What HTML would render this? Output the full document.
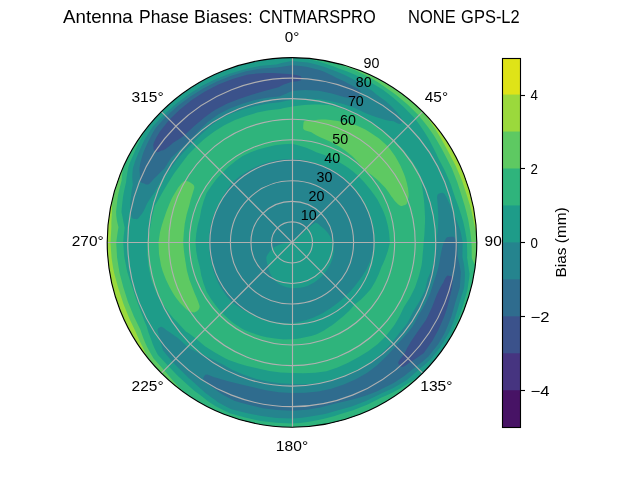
<!DOCTYPE html>
<html><head><meta charset="utf-8"><title>Antenna Phase Biases</title>
<style>html,body{margin:0;padding:0;background:#fff}svg{display:block;will-change:transform}text{font-family:"Liberation Sans",sans-serif;fill:#000}</style></head><body>
<svg width="640" height="480" viewBox="0 0 640 480">
<rect width="640" height="480" fill="#fff"/>
<defs><clipPath id="c"><circle cx="292" cy="242.4" r="184.8"/></clipPath></defs>
<g clip-path="url(#c)" shape-rendering="geometricPrecision">
<path d="M292 241.4L292 240.3L292 239.3L292 238.3L292 237.3L292 236.2L292 235.2L292 234.2L292 233.2L292 232.1L292 231.1L292 230.1L292 229.1L292 228L292 227L292 226L292 224.9L292 223.9L292 222.9L292 221.9L292 220.8L292 219.8L292 218.8L292 217.8L292 216.7L292 215.7L292 214.7L292 213.7L292 212.6L292 211.6L292 210.6L292 209.5L292 208.5L292 207.5L292 206.5L292 205.4L292 204.4L292 203.4L292 202.4L292 201.3L292 200.3L292 199.3L292 198.3L292 197.2L292 196.2L292 195.2L292 194.1L292 193.1L292 192.1L292 191.1L292 190L292 189L292 188L292 187L292 185.9L292 184.9L292 183.9L292 182.9L292 181.8L292 180.8L292 179.8L292 178.7L292 177.7L292 176.7L292 175.7L292 174.6L292 173.6L292 172.6L292 171.6L292 170.5L292 169.5L292 168.5L292 167.5L292 166.4L292 165.4L292 164.4L292 163.3L292 162.3L292 161.3L292 160.3L292 159.2L292 158.2L292 157.2L292 156.2L292 155.1L292 154.1L292 153.1L292 152.1L292 151L292 150L292 149L292 147.9L292 146.9L292 145.9L292 144.9L292 143.8L292 142.8L292 141.8L292 140.8L292 139.7L292 138.7L292 137.7L292 136.7L292 135.6L292 134.6L292 133.6L292 132.5L292 131.5L292 130.5L292 129.5L292 128.4L292 127.4L292 126.4L292 125.4L292 124.3L292 123.3L292 122.3L292 121.3L292 120.2L292 119.2L292 118.2L292 117.1L292 116.1L292 115.1L292 114.1L292 113L292 112L292 111L292 110L292 108.9L292 107.9L292 106.9L292 105.9L292 104.8L292 103.8L292 102.8L292 101.7L292 100.7L292 99.7L292 98.7L292 97.6L292 96.6L292 95.6L292 94.6L292 93.5L292 92.5L292 91.5L292 90.5L292 89.4L292 88.4L292 87.4L292 86.3L292 85.3L292 84.3L292 83.3L292 82.2L292 81.2L292 80.2L292 79.2L292 78.1L292 77.1L292 76.1L292 75.1L292 74L292 73L292 72L292 70.9L292 69.9L292 68.9L292 67.9L292 66.8L292 65.8L292 64.8L292 63.8L292 62.7L292 61.7L292 60.7L292 59.7L292 58.6L292 57.6L308.1 58.3L324.1 60.4L339.8 63.9L355.2 68.7L370.1 74.9L384.4 82.4L398 91L410.8 100.8L422.7 111.7L433.6 123.6L443.4 136.4L452 150L459.5 164.3L465.7 179.2L470.5 194.6L474 210.3L476.1 226.3L476.8 242.4L476.1 258.5L474 274.5L470.5 290.2L465.7 305.6L459.5 320.5L452 334.8L443.4 348.4L433.6 361.2L422.7 373.1L410.8 384L398 393.8L384.4 402.4L370.1 409.9L355.2 416.1L339.8 420.9L324.1 424.4L308.1 426.5L292 427.2L275.9 426.5L259.9 424.4L244.2 420.9L228.8 416.1L213.9 409.9L199.6 402.4L186 393.8L173.2 384L161.3 373.1L150.4 361.2L140.6 348.4L132 334.8L124.5 320.5L118.3 305.6L113.5 290.2L110 274.5L107.9 258.5L107.2 242.4L107.9 226.3L110 210.3L113.5 194.6L118.3 179.2L124.5 164.3L132 150L140.6 136.4L150.4 123.6L161.3 111.7L173.2 100.8L186 91L199.6 82.4L213.9 74.9L228.8 68.7L244.2 63.9L259.9 60.4L275.9 58.3L292 57.6L292 58.6L292 59.7L292 60.7L292 61.7L292 62.7L292 63.8L292 64.8L292 65.8L292 66.8L292 67.9L292 68.9L292 69.9L292 70.9L292 72L292 73L292 74L292 75.1L292 76.1L292 77.1L292 78.1L292 79.2L292 80.2L292 81.2L292 82.2L292 83.3L292 84.3L292 85.3L292 86.3L292 87.4L292 88.4L292 89.4L292 90.5L292 91.5L292 92.5L292 93.5L292 94.6L292 95.6L292 96.6L292 97.6L292 98.7L292 99.7L292 100.7L292 101.7L292 102.8L292 103.8L292 104.8L292 105.9L292 106.9L292 107.9L292 108.9L292 110L292 111L292 112L292 113L292 114.1L292 115.1L292 116.1L292 117.1L292 118.2L292 119.2L292 120.2L292 121.3L292 122.3L292 123.3L292 124.3L292 125.4L292 126.4L292 127.4L292 128.4L292 129.5L292 130.5L292 131.5L292 132.5L292 133.6L292 134.6L292 135.6L292 136.7L292 137.7L292 138.7L292 139.7L292 140.8L292 141.8L292 142.8L292 143.8L292 144.9L292 145.9L292 146.9L292 147.9L292 149L292 150L292 151L292 152.1L292 153.1L292 154.1L292 155.1L292 156.2L292 157.2L292 158.2L292 159.2L292 160.3L292 161.3L292 162.3L292 163.3L292 164.4L292 165.4L292 166.4L292 167.5L292 168.5L292 169.5L292 170.5L292 171.6L292 172.6L292 173.6L292 174.6L292 175.7L292 176.7L292 177.7L292 178.7L292 179.8L292 180.8L292 181.8L292 182.9L292 183.9L292 184.9L292 185.9L292 187L292 188L292 189L292 190L292 191.1L292 192.1L292 193.1L292 194.1L292 195.2L292 196.2L292 197.2L292 198.3L292 199.3L292 200.3L292 201.3L292 202.4L292 203.4L292 204.4L292 205.4L292 206.5L292 207.5L292 208.5L292 209.5L292 210.6L292 211.6L292 212.6L292 213.7L292 214.7L292 215.7L292 216.7L292 217.8L292 218.8L292 219.8L292 220.8L292 221.9L292 222.9L292 223.9L292 224.9L292 226L292 227L292 228L292 229.1L292 230.1L292 231.1L292 232.1L292 233.2L292 234.2L292 235.2L292 236.2L292 237.3L292 238.3L292 239.3L292 240.3L292 241.4L292 242.4L292 242.4L292 242.4L292 242.4L292 242.4L292 242.4L292 242.4L292 242.4L292 242.4L292 242.4L292 242.4L292 242.4L292 242.4L292 242.4L292 242.4L292 242.4L292 242.4L292 242.4L292 242.4L292 242.4L292 242.4L292 242.4L292 242.4L292 242.4L292 242.4L292 242.4L292 242.4L292 242.4L292 242.4L292 242.4L292 242.4L292 242.4L292 242.4L292 242.4L292 242.4L292 242.4L292 242.4L292 242.4L292 242.4L292 242.4L292 242.4L292 242.4L292 242.4L292 242.4L292 242.4L292 242.4L292 242.4L292 242.4L292 242.4L292 242.4L292 242.4L292 242.4L292 242.4L292 242.4L292 242.4L292 242.4L292 242.4L292 242.4L292 242.4L292 242.4L292 242.4L292 242.4L292 242.4L292 242.4L292 242.4L292 242.4L292 242.4L292 242.4L292 242.4L292 242.4L292 242.4L292 242.4L292 242.4z" fill="#3b528b"/>
<path d="M292 241.4L292 240.3L292 239.3L292 238.3L292 237.3L292 236.2L292 235.2L292 234.2L292 233.2L292 232.1L292 231.1L292 230.1L292 229.1L292 228L292 227L292 226L292 224.9L292 223.9L292 222.9L292 221.9L292 220.8L292 219.8L292 218.8L292 217.8L292 216.7L292 215.7L292 214.7L292 213.7L292 212.6L292 211.6L292 210.6L292 209.5L292 208.5L292 207.5L292 206.5L292 205.4L292 204.4L292 203.4L292 202.4L292 201.3L292 200.3L292 199.3L292 198.3L292 197.2L292 196.2L292 195.2L292 194.1L292 193.1L292 192.1L292 191.1L292 190L292 189L292 188L292 187L292 185.9L292 184.9L292 183.9L292 182.9L292 181.8L292 180.8L292 179.8L292 178.7L292 177.7L292 176.7L292 175.7L292 174.6L292 173.6L292 172.6L292 171.6L292 170.5L292 169.5L292 168.5L292 167.5L292 166.4L292 165.4L292 164.4L292 163.3L292 162.3L292 161.3L292 160.3L292 159.2L292 158.2L292 157.2L292 156.2L292 155.1L292 154.1L292 153.1L292 152.1L292 151L292 150L292 149L292 147.9L292 146.9L292 145.9L292 144.9L292 143.8L292 142.8L292 141.8L292 140.8L292 139.7L292 138.7L292 137.7L292 136.7L292 135.6L292 134.6L292 133.6L292 132.5L292 131.5L292 130.5L292 129.5L292 128.4L292 127.4L292 126.4L292 125.4L292 124.3L292 123.3L292 122.3L292 121.3L292 120.2L292 119.2L292 118.2L292 117.1L292 116.1L292 115.1L292 114.1L292 113L292 112L292 111L292 110L292 108.9L292 107.9L292 106.9L292 105.9L292 104.8L292 103.8L292 102.8L292 101.7L292 100.7L292 99.7L292 98.7L292 97.6L292 96.6L292 95.6L292 94.6L292 93.5L292 92.5L292 91.5L292 90.5L292 89.4L292 88.4L292 87.4L292 86.3L292 85.3L292 84.3L292 83.3L292 82.2L292 81.8L297.4 81.3L300.7 80.4L301.3 79.4L301.3 78.4L301.4 77.4L300.7 76.3L296.4 75.1L292 74.6L292 74L292 73L292 72L292 70.9L292 69.9L292 68.9L292 67.9L292 66.8L292 65.8L292 64.8L292 63.8L292 62.7L292 61.7L292 60.7L292 59.7L292 58.6L292 57.6L308.1 58.3L324.1 60.4L339.8 63.9L355.2 68.7L370.1 74.9L384.4 82.4L398 91L410.8 100.8L422.7 111.7L433.6 123.6L443.4 136.4L452 150L459.5 164.3L465.7 179.2L470.5 194.6L474 210.3L476.1 226.3L476.8 242.4L476.1 258.5L474 274.5L470.5 290.2L465.7 305.6L459.5 320.5L452 334.8L443.4 348.4L433.6 361.2L422.7 373.1L410.8 384L398 393.8L384.4 402.4L370.1 409.9L355.2 416.1L339.8 420.9L324.1 424.4L308.1 426.5L292 427.2L275.9 426.5L259.9 424.4L244.2 420.9L228.8 416.1L213.9 409.9L199.6 402.4L186 393.8L173.2 384L161.3 373.1L150.4 361.2L140.6 348.4L132 334.8L124.5 320.5L118.3 305.6L113.5 290.2L110 274.5L107.9 258.5L107.2 242.4L107.9 226.3L110 210.3L113.5 194.6L118.3 179.2L124.5 164.3L132 150L140.6 136.4L150.4 123.6L161.3 111.7L173.2 100.8L186 91L199.6 82.4L213.9 74.9L228.8 68.7L244.2 63.9L259.9 60.4L275.9 58.3L292 57.6L292 58.6L292 59.7L292 60.7L292 61.7L292 62.7L292 63.8L292 64.8L292 65.8L292 66.8L292 67.9L292 68.9L292 69.9L292 70.9L292 72L292 73L292 74L292 74.6L288.2 74.1L280.7 73.4L277.2 73.3L273 73L265.1 73.1L262.2 73.2L257.3 73.5L248.6 74.4L247.1 74.7L232.5 79L218.4 84.6L205 91.6L192.1 99.8L180.2 109.2L169.3 119.7L169.3 119.7L159.9 131.5L159.9 131.5L156.5 137.3L153.9 142.5L153.2 145.2L153.2 145.2L153.5 146.7L153.5 148.4L153.8 149.9L154.6 150.6L155.4 151.1L156.3 151.7L157.2 152.2L158.6 151.9L160.5 150.9L161 150.6L162 150.6L163.7 150.1L165.9 148.7L169.1 146.3L173.2 142.8L173.2 142.8L176.4 140.7L179.9 138.4L183.9 135.7L184.7 135.1L194.3 126L194.3 126L204.5 117.4L211.5 112.3L215.4 109.7L227.3 103.6L239.7 98.7L239.7 98.7L252.4 94.6L252.4 94.6L265.3 90.7L265.3 90.7L273.7 88.5L278.4 87.3L279.1 86.9L281.2 85.7L283.8 84.5L286.8 83.4L290.3 82.2L292 81.8L292 82.2L292 83.3L292 84.3L292 85.3L292 86.3L292 87.4L292 88.4L292 89.4L292 90.5L292 91.5L292 92.5L292 93.5L292 94.6L292 95.6L292 96.6L292 97.6L292 98.7L292 99.7L292 100.7L292 101.7L292 102.8L292 103.8L292 104.8L292 105.9L292 106.9L292 107.9L292 108.9L292 110L292 111L292 112L292 113L292 114.1L292 115.1L292 116.1L292 117.1L292 118.2L292 119.2L292 120.2L292 121.3L292 122.3L292 123.3L292 124.3L292 125.4L292 126.4L292 127.4L292 128.4L292 129.5L292 130.5L292 131.5L292 132.5L292 133.6L292 134.6L292 135.6L292 136.7L292 137.7L292 138.7L292 139.7L292 140.8L292 141.8L292 142.8L292 143.8L292 144.9L292 145.9L292 146.9L292 147.9L292 149L292 150L292 151L292 152.1L292 153.1L292 154.1L292 155.1L292 156.2L292 157.2L292 158.2L292 159.2L292 160.3L292 161.3L292 162.3L292 163.3L292 164.4L292 165.4L292 166.4L292 167.5L292 168.5L292 169.5L292 170.5L292 171.6L292 172.6L292 173.6L292 174.6L292 175.7L292 176.7L292 177.7L292 178.7L292 179.8L292 180.8L292 181.8L292 182.9L292 183.9L292 184.9L292 185.9L292 187L292 188L292 189L292 190L292 191.1L292 192.1L292 193.1L292 194.1L292 195.2L292 196.2L292 197.2L292 198.3L292 199.3L292 200.3L292 201.3L292 202.4L292 203.4L292 204.4L292 205.4L292 206.5L292 207.5L292 208.5L292 209.5L292 210.6L292 211.6L292 212.6L292 213.7L292 214.7L292 215.7L292 216.7L292 217.8L292 218.8L292 219.8L292 220.8L292 221.9L292 222.9L292 223.9L292 224.9L292 226L292 227L292 228L292 229.1L292 230.1L292 231.1L292 232.1L292 233.2L292 234.2L292 235.2L292 236.2L292 237.3L292 238.3L292 239.3L292 240.3L292 241.4L292 242.4L292 242.4L292 242.4L292 242.4L292 242.4L292 242.4L292 242.4L292 242.4L292 242.4L292 242.4L292 242.4L292 242.4L292 242.4L292 242.4L292 242.4L292 242.4L292 242.4L292 242.4L292 242.4L292 242.4L292 242.4L292 242.4L292 242.4L292 242.4L292 242.4L292 242.4L292 242.4L292 242.4L292 242.4L292 242.4L292 242.4L292 242.4L292 242.4L292 242.4L292 242.4L292 242.4L292 242.4L292 242.4L292 242.4L292 242.4L292 242.4L292 242.4L292 242.4L292 242.4L292 242.4L292 242.4L292 242.4L292 242.4L292 242.4L292 242.4L292 242.4L292 242.4L292 242.4L292 242.4L292 242.4L292 242.4L292 242.4L292 242.4L292 242.4L292 242.4L292 242.4L292 242.4L292 242.4L292 242.4L292 242.4L292 242.4L292 242.4L292 242.4L292 242.4L292 242.4L292 242.4L292 242.4L292 242.4zM443.1 282.9L442.5 283.8L440.2 287.8L436.7 295.1L436.7 295.1L436.7 295.1L431.9 307.6L426.1 319.8L418.3 330.8L410.6 341.9L410.1 342.9L407.6 347.2L405.8 350.7L404.2 353.8L403.9 354.3L399.8 359.5L398.3 362.2L398.3 363.6L399 364.4L399.6 365.1L400.3 365.9L401 366.7L402.2 367L404.9 365.9L411.1 361.5L411.1 361.5L414.5 359.4L418.1 357.1L421.7 354.5L423.8 353L432.4 340.7L432.4 340.7L438.4 329.7L439.4 327.5L443.5 318.3L445.2 313.8L447 308.2L449.3 299.6L449.3 299.6L452 287.9L452.2 285.3L452.7 281.1L452.4 277.7L451.7 276.4L450.7 276.1L449.7 275.9L448.7 275.7L447.6 275.6L446.4 276.4L444.7 279.3z" fill="#2f6c8e"/>
<path d="M292 241.4L292 240.3L292 239.3L292 238.3L292 237.3L292 236.2L292 235.2L292 234.2L292 233.2L292 232.1L292 231.1L292 230.1L292 229.1L292 228L292 227L292 226L292 224.9L292 223.9L292 222.9L292 221.9L292 220.8L292 219.8L292 218.8L292 217.8L292 216.7L292 215.7L292 214.7L292 213.7L292 212.6L292 211.6L292 210.6L292 209.5L292 208.5L292 207.5L292 206.5L292 205.4L292 204.4L292 203.4L292 202.4L292 201.3L292 200.3L292 199.3L292 198.3L292 197.2L292 196.2L292 195.2L292 194.1L292 193.1L292 192.1L292 191.1L292 190L292 189L292 188L292 187L292 185.9L292 184.9L292 183.9L292 182.9L292 181.8L292 180.8L292 179.8L292 178.7L292 177.7L292 176.7L292 175.7L292 174.6L292 173.6L292 172.6L292 171.6L292 170.5L292 169.5L292 168.5L292 167.5L292 166.4L292 165.4L292 164.4L292 163.3L292 162.3L292 161.3L292 160.3L292 159.2L292 158.2L292 157.2L292 156.2L292 155.1L292 154.1L292 153.1L292 152.1L292 151L292 150L292 149L292 147.9L292 146.9L292 145.9L292 144.9L292 143.8L292 142.8L292 141.8L292 140.8L292 139.7L292 138.7L292 137.7L292 136.7L292 135.6L292 134.6L292 133.6L292 132.5L292 131.5L292 130.5L292 129.5L292 128.4L292 127.4L292 126.4L292 125.4L292 124.3L292 123.3L292 122.3L292 121.3L292 120.2L292 119.2L292 118.2L292 117.1L292 116.1L292 115.1L292 114.1L292 113L292 112L292 111L292 110L292 108.9L292 107.9L292 106.9L292 105.9L292 104.8L292 103.8L292 102.8L292 101.7L292 100.7L292 99.7L292 98.7L292 97.6L292 96.6L292 95.6L292 94.6L292 93.5L292 92.5L292 91.5L292 91.1L296.9 90.5L305.3 90L305.3 90L318.7 90.7L331.9 93.6L331.9 93.6L344.8 97.3L347.6 97.7L352.3 98.5L355.7 98.8L357.2 98.4L357.8 97.5L358.3 96.6L358.8 95.7L359.2 94.8L359.6 93.8L360 92.9L360.4 91.9L360.6 90.9L357.5 88.4L349.6 84.2L349.6 84.2L343.6 81.1L336.1 77.8L336.1 77.8L332.6 75.8L328.8 73.9L324.7 72L322.2 70.9L319.4 70L311.5 67.9L307.4 66.9L300.9 66L292 65.2L292 64.8L292 63.8L292 62.7L292 61.7L292 60.7L292 59.7L292 58.6L292 57.6L308.1 58.3L324.1 60.4L339.8 63.9L355.2 68.7L370.1 74.9L384.4 82.4L398 91L410.8 100.8L422.7 111.7L433.6 123.6L443.4 136.4L452 150L459.5 164.3L465.7 179.2L470.5 194.6L474 210.3L476.1 226.3L476.8 242.4L476.1 258.5L474 274.5L470.5 290.2L465.7 305.6L459.5 320.5L452 334.8L443.4 348.4L433.6 361.2L422.7 373.1L410.8 384L398 393.8L384.4 402.4L370.1 409.9L355.2 416.1L339.8 420.9L324.1 424.4L308.1 426.5L292 427.2L275.9 426.5L259.9 424.4L244.2 420.9L228.8 416.1L213.9 409.9L199.6 402.4L186 393.8L173.2 384L161.3 373.1L150.4 361.2L140.6 348.4L132 334.8L124.5 320.5L118.3 305.6L113.5 290.2L110 274.5L107.9 258.5L107.2 242.4L107.9 226.3L110 210.3L113.5 194.6L118.3 179.2L124.5 164.3L132 150L140.6 136.4L150.4 123.6L161.3 111.7L173.2 100.8L186 91L199.6 82.4L213.9 74.9L228.8 68.7L244.2 63.9L259.9 60.4L275.9 58.3L292 57.6L292 58.6L292 59.7L292 60.7L292 61.7L292 62.7L292 63.8L292 64.8L292 65.2L288.5 65.8L276.7 67.5L261.3 68.5L261.3 68.5L246.1 71.3L231.3 75.7L216.9 81.4L216.9 81.4L203.1 88.4L190 96.8L177.6 106.1L166 116.4L155.7 128L154.3 130.3L151.1 136L148.2 141.7L148.2 141.7L145.5 147.5L143.2 153.1L142.3 156L141.8 157.7L140.6 161.9L139.9 165.6L139.5 168.6L139.5 170.9L139.6 171.3L139.8 172.9L139.9 175.1L139.9 177.6L140 180.1L140.4 181.9L141.2 182.5L142.2 182.9L143.2 183.3L144.1 183.6L145.1 184L146 184.4L147.1 184.6L148.2 184.4L149.7 183.5L151.8 181.2L154.3 178.2L154.3 178.2L156.3 176.4L158.5 174.2L161 171.7L163.4 169.5L164.3 168.7L171.2 157.8L173.9 155.3L178.7 150.7L180.6 148.9L186.1 143.7L189.9 140.3L193 136.8L198.5 131L200.9 128.6L207.8 122.1L207.8 122.1L218.1 114.4L229.6 108.6L241.6 103.9L253.9 100.2L266.5 97.8L266.5 97.8L279.2 96.5L280.5 96L283.4 94.8L286.1 93.7L288.6 92.5L291 91.5L292 91.1L292 91.5L292 92.5L292 93.5L292 94.6L292 95.6L292 96.6L292 97.6L292 98.7L292 99.7L292 100.7L292 101.7L292 102.8L292 103.8L292 104.8L292 105.9L292 106.9L292 107.9L292 108.9L292 110L292 111L292 112L292 113L292 114.1L292 115.1L292 116.1L292 117.1L292 118.2L292 119.2L292 120.2L292 121.3L292 122.3L292 123.3L292 124.3L292 125.4L292 126.4L292 127.4L292 128.4L292 129.5L292 130.5L292 131.5L292 132.5L292 133.6L292 134.6L292 135.6L292 136.7L292 137.7L292 138.7L292 139.7L292 140.8L292 141.8L292 142.8L292 143.8L292 144.9L292 145.9L292 146.9L292 147.9L292 149L292 150L292 151L292 152.1L292 153.1L292 154.1L292 155.1L292 156.2L292 157.2L292 158.2L292 159.2L292 160.3L292 161.3L292 162.3L292 163.3L292 164.4L292 165.4L292 166.4L292 167.5L292 168.5L292 169.5L292 170.5L292 171.6L292 172.6L292 173.6L292 174.6L292 175.7L292 176.7L292 177.7L292 178.7L292 179.8L292 180.8L292 181.8L292 182.9L292 183.9L292 184.9L292 185.9L292 187L292 188L292 189L292 190L292 191.1L292 192.1L292 193.1L292 194.1L292 195.2L292 196.2L292 197.2L292 198.3L292 199.3L292 200.3L292 201.3L292 202.4L292 203.4L292 204.4L292 205.4L292 206.5L292 207.5L292 208.5L292 209.5L292 210.6L292 211.6L292 212.6L292 213.7L292 214.7L292 215.7L292 216.7L292 217.8L292 218.8L292 219.8L292 220.8L292 221.9L292 222.9L292 223.9L292 224.9L292 226L292 227L292 228L292 229.1L292 230.1L292 231.1L292 232.1L292 233.2L292 234.2L292 235.2L292 236.2L292 237.3L292 238.3L292 239.3L292 240.3L292 241.4L292 242.4L292 242.4L292 242.4L292 242.4L292 242.4L292 242.4L292 242.4L292 242.4L292 242.4L292 242.4L292 242.4L292 242.4L292 242.4L292 242.4L292 242.4L292 242.4L292 242.4L292 242.4L292 242.4L292 242.4L292 242.4L292 242.4L292 242.4L292 242.4L292 242.4L292 242.4L292 242.4L292 242.4L292 242.4L292 242.4L292 242.4L292 242.4L292 242.4L292 242.4L292 242.4L292 242.4L292 242.4L292 242.4L292 242.4L292 242.4L292 242.4L292 242.4L292 242.4L292 242.4L292 242.4L292 242.4L292 242.4L292 242.4L292 242.4L292 242.4L292 242.4L292 242.4L292 242.4L292 242.4L292 242.4L292 242.4L292 242.4L292 242.4L292 242.4L292 242.4L292 242.4L292 242.4L292 242.4L292 242.4L292 242.4L292 242.4L292 242.4L292 242.4L292 242.4L292 242.4L292 242.4L292 242.4L292 242.4zM443.9 242.4L442.9 245L441.7 250.1L440.5 255.4L439.8 260.2L438.2 268.2L436.2 274.9L434.2 280.5L430.4 292.8L426.6 300.9L424.9 304.4L418.4 315.4L413.9 324.2L412.4 326.7L408.3 332L404.3 336.6L395.6 346L393.6 348.4L387 355.7L387 355.7L380.5 362.1L377.6 364.7L372.6 368.8L367.3 372.8L355.8 379.2L355.8 379.2L343.8 384.6L331.2 388.8L318.3 391.4L305.2 392.7L305.2 392.7L292 393.1L278.9 392.3L265.9 390.2L253.2 387.2L253.2 387.2L253.2 387.2L240.4 384.2L240.4 384.2L233.2 382.5L227.4 381L227.4 381L221.2 379.2L216.5 377.8L214.2 377.2L211.2 375.9L207.2 374.6L205.4 374.7L204.7 375.5L204.2 376.3L203.6 377.2L203.1 378.1L203.7 379.7L206.7 382.8L209.7 385L212.2 387.2L217.8 391.3L221.4 393.7L224.4 395.5L232.7 400L234.3 400.8L240.9 402.8L248.5 404.8L262.8 408.2L262.8 408.2L277.3 410.1L292 410.8L292 410.8L306.6 409.7L321.1 407.2L321.1 407.2L335.2 403.5L342 402.1L349.4 400.2L352.4 399.5L360.5 397.3L363.8 396.3L368.9 394.5L377.7 390.9L377.7 390.9L387.1 386.3L391.3 384.2L395.2 381.9L404.2 376.1L404.2 376.1L416.1 366.5L416.1 366.5L421.8 362.2L427.2 357.6L428.2 356.7L438 344.6L443.9 334.5L445.6 331.1L448.3 324.5L451.3 316.7L451.7 315.3L454 307.3L455.4 301.9L459.8 287.4L459.9 286.3L460.3 280L460.8 272.2L460.8 272.2L460.3 269.2L459.7 266.1L459.1 263L458.4 259.9L457.7 256.9L457.7 256.9L457.4 242.4L457.3 242.1L456.3 240.3L455.2 238.4L454.1 237L453.1 236.7L452.1 236.7L451 236.8L450 236.8L449 236.9L448 237L446.9 237.5L445.9 238.4L445 240.2L443.9 242.4z" fill="#25848e"/>
<path d="M292 158.2L292 157.2L292 156.2L292 155.1L292 154.1L292 153.1L292 152.1L292 151L292 150L292 149L292 147.9L292 146.9L292 145.9L292 144.9L292 143.8L292 142.8L292 141.8L292 140.8L292 139.7L292 138.7L292 137.7L292 136.7L292 135.6L292 134.6L292 133.6L292 132.5L292 131.5L292 130.5L292 129.5L292 128.4L292 127.4L292 126.4L292 125.4L292 124.3L292 123.3L292 122.3L292 121.3L292 120.2L292 119.2L292 118.2L292 117.1L292 116.1L292 115.1L292 114.1L292 113L292 112L292 111L292 110L292 108.9L292 107.9L292 106.9L292 105.9L292 104.8L292 103.8L292 102.8L292 101.7L292 100.7L292 99.7L292 99.7L300.7 98.9L304.6 98.8L310.2 98.8L317.2 99.2L321.2 99.6L329.9 100.9L334.6 101.9L342.4 103.8L349 106L354.7 108L366.4 113.5L366.4 113.5L371.6 115.4L375.9 116.9L379.2 117.9L379.2 117.9L382.5 119L385.4 119.9L387.8 120.5L389.9 120.9L391.7 121.1L393.6 121.3L393.6 121.3L397.7 123.5L400 124.1L400.9 123.6L401.6 122.8L402.3 122L402.7 121.1L401.9 119L398.9 115L398.9 115L396.5 111.7L392.3 107.2L388.9 104L385.5 101.1L377.1 95L376.5 94.4L372.1 90.8L364.9 86.1L364.9 86.1L359 82.4L351.7 78.4L351.7 78.4L344.2 74.8L337.6 72L336.5 71.5L329.8 68.9L323 66.5L323 66.5L315.2 64.2L307.7 62.4L307.7 62.4L292 61.1L292 60.7L292 59.7L292 58.6L292 57.6L308.1 58.3L324.1 60.4L339.8 63.9L355.2 68.7L370.1 74.9L384.4 82.4L398 91L410.8 100.8L422.7 111.7L433.6 123.6L443.4 136.4L452 150L459.5 164.3L465.7 179.2L470.5 194.6L474 210.3L476.1 226.3L476.8 242.4L476.1 258.5L474 274.5L470.5 290.2L465.7 305.6L459.5 320.5L452 334.8L443.4 348.4L433.6 361.2L422.7 373.1L410.8 384L398 393.8L384.4 402.4L370.1 409.9L355.2 416.1L339.8 420.9L324.1 424.4L308.1 426.5L292 427.2L275.9 426.5L259.9 424.4L244.2 420.9L228.8 416.1L213.9 409.9L199.6 402.4L186 393.8L173.2 384L161.3 373.1L150.4 361.2L140.6 348.4L132 334.8L124.5 320.5L118.3 305.6L113.5 290.2L110 274.5L107.9 258.5L107.2 242.4L107.9 226.3L110 210.3L113.5 194.6L118.3 179.2L124.5 164.3L132 150L140.6 136.4L150.4 123.6L161.3 111.7L173.2 100.8L186 91L199.6 82.4L213.9 74.9L228.8 68.7L244.2 63.9L259.9 60.4L275.9 58.3L292 57.6L292 58.6L292 59.7L292 60.7L292 61.1L287.7 61.8L281.6 63L276.4 64.4L260.9 65.8L245.5 68.9L245.5 68.9L230.5 73.4L215.8 79L201.7 86.1L188.5 94.5L175.9 104L175.9 104L164.2 114.6L153.2 126L150.7 129.8L144.8 139.3L144.8 139.3L141.3 146.5L138.2 153.6L138.2 153.6L135 161.6L132.9 168.2L132.9 168.2L132.6 171.4L132.4 174.4L132.3 177.1L132.4 179.6L132.6 182L132.8 184.5L132.8 184.5L131.6 191.3L130.9 197.2L130.7 199.2L130.3 203.6L130 209.4L130.4 213L130.6 213.9L131 215.3L131.7 217.4L132.6 218.5L133.6 218.7L134.6 218.9L135.6 219L136.6 219.2L137.8 218.7L139 217.5L140.3 215.7L140.3 215.7L141.6 214.3L143.1 212L145.1 208L147 203.6L147.4 202.9L149.3 199.9L151.3 196.9L153.4 194L154.6 192.4L156.1 189.5L160.8 181.2L160.8 181.2L163.6 177.9L167.1 173.3L168.8 171.3L175.9 161.1L175.9 161.1L183.9 151.7L189.5 146.1L192.7 143.1L195.8 139.8L201.3 134.3L207.2 128.9L210.5 126L218.3 120.2L220.6 118.6L224.3 116.8L231.9 113.4L243.5 109.3L243.5 109.3L255.4 105.9L267.5 103.5L279.7 102.3L279.7 102.3L279.7 102.3L286.4 100.8L292 99.7L292 100.7L292 101.7L292 102.8L292 103.8L292 104.8L292 105.9L292 106.9L292 107.9L292 108.9L292 110L292 111L292 112L292 113L292 114.1L292 115.1L292 116.1L292 117.1L292 118.2L292 119.2L292 120.2L292 121.3L292 122.3L292 123.3L292 124.3L292 125.4L292 126.4L292 127.4L292 128.4L292 129.5L292 130.5L292 131.5L292 132.5L292 133.6L292 134.6L292 135.6L292 136.7L292 137.7L292 138.7L292 139.7L292 140.8L292 141.8L292 142.8L292 143.8L292 144.9L292 145.9L292 146.9L292 147.9L292 149L292 150L292 151L292 152.1L292 153.1L292 154.1L292 155.1L292 156.2L292 157.2L292 158.2L292 158.9L284.7 159.2L277.5 160.1L270.4 161.7L263.4 163.8L256.6 166.4L250 169.7L243.8 173.5L240.7 175.6L237.8 177.9L232.3 182.7L231.1 184.2L227.9 188.7L225.5 192.5L224.1 194.9L220.9 201.3L217.3 207.6L214.2 214.1L211.7 220.9L211.7 220.9L210.1 228L209.2 235.2L208.8 242.4L209.2 249.6L210.1 256.8L211.7 263.9L213.5 271L216 277.8L219.1 284.5L219.1 284.5L222.9 290.8L227.3 296.7L232.2 302.2L235.1 304.5L238.1 306.6L242.8 309.5L244.4 310.4L250.9 313.5L250.9 313.5L257.4 316.6L264.1 319.1L271 320.9L276.2 322L277.9 322.2L285 322.9L292 322.9L295.9 322.4L299 321.9L305.2 320.3L305.7 320.2L312.3 318L314.2 317.2L318.5 315.3L323.4 312.7L324.5 312.1L330.1 308.4L335.6 304.6L335.6 304.6L340.7 300.5L345.5 295.9L349.6 291.9L350.3 291.3L354.7 286.3L358.7 280.9L358.7 280.9L362.7 275.4L362.7 275.4L366.3 269.4L366.3 269.4L369.4 263.1L369.4 263.1L371.6 256.4L372.4 252.9L373.1 249.5L374.1 242.4L374.1 242.4L374.1 242.4L373.8 235.2L372.8 228.2L371.1 221.2L368.8 214.4L365.9 207.9L362.4 201.7L358.9 195.5L354.9 189.6L354.9 189.6L350.5 183.9L345.2 179L339.4 174.6L333.4 170.8L326.9 167.5L320.2 164.8L313.4 162.7L306.4 160.8L300.6 159.7L299.3 159.5L292 158.9zM437.6 203.4L437.8 207.6L438.3 215.1L438.4 216.6L438.3 220.9L438 227.2L437.8 229.6L437.5 232.6L436.7 239.3L436.3 242.4L435.5 251.3L435 254.9L432.7 267.2L432.4 268.1L430.4 272.6L428.2 277.7L427.7 278.7L427.2 281.2L424.9 290.8L420.5 299.6L419.3 301.8L412.9 312.2L412.9 312.2L412.9 312.2L408.3 321.5L407.4 323.2L403.8 327.7L399.6 332.7L398.5 334.3L392.2 342.6L392.2 342.6L383.5 351.4L379.4 355.2L374.2 359.8L368.8 363.9L364.1 367.2L352.9 373L341.2 377.6L329.2 381.2L329.2 381.2L316.9 383.3L310.6 383.9L304.4 384.2L292 384.1L292 384.1L279.7 383.3L267.5 381.5L255.5 378.7L243.8 374.8L232.6 369.9L232.6 369.9L221.9 363.9L219.1 362.7L210.7 358.5L210.7 358.5L206.7 356.8L202.7 355L199 353.3L199 353.3L194.8 351.1L190.9 348.9L187.5 346.9L187.5 346.9L178 338.1L178 338.1L174.9 335.9L171.9 333.8L169.3 332L167 330.5L166.5 330.3L164.2 328.3L162.1 327L160.7 326.8L159.8 327.3L159 327.8L158.1 328.4L157.6 329.5L157.9 331.9L158.8 335L159 335.6L159.5 337.8L160.2 340.4L160.9 343.1L161.6 345.7L162.4 348.2L163 350.6L163 350.6L172.5 361.9L179 368.6L183 372.3L188.7 378L193.9 382.5L195.8 384.3L200.7 388.7L205.2 392.7L205.2 392.7L210.9 396.9L215.9 400.6L217.6 401.9L223 404.9L231.3 409.3L231.3 409.3L231.3 409.3L246.3 413L246.3 413L261.4 416.1L276.6 417.9L292 418.4L302 417.7L307.3 417.1L322.3 414.5L326.9 413.4L337.1 410.6L351.7 406.4L351.7 406.4L365.9 400.9L379.7 394.3L381.1 393.6L388.5 390.3L393.8 387.7L395.4 386.8L403.2 382.2L407.2 379.7L419 369.4L419 369.4L425.6 364L430.9 359L440.7 346.5L448.8 332.9L450.7 328.7L454.8 318.3L454.8 318.3L457.9 308.6L459.3 303.3L463.9 288.5L464.3 285.7L464.8 279L464.9 272.9L464.9 272.9L464.5 268.9L464 265.1L463.4 261.6L462.7 258.5L462.4 257.3L462.6 242.4L462.4 241.1L461.2 234.5L459.9 229.3L459.3 227.8L458.5 225.4L457 221.6L455.5 218.2L454 215.2L453.4 213.9L451.9 209.6L449.5 203.7L447.9 200.6L447.3 199.1L444.8 194.5L443.3 193L442.1 192.7L441.1 193L440.1 193.3L439.2 193.6L438.2 194L437.4 195L437.1 197.2L437.4 202zM292.8 241.7L293.5 241L294.3 240.3L295 239.6L295.8 238.9L296.6 238.3L297.3 237.6L298.1 236.9L298.9 236.2L299.6 235.5L300.4 234.9L301.2 234.2L302 233.5L302.7 232.9L303.5 232.2L304.3 231.5L305.1 230.8L305.9 230.2L306.6 229.5L307.4 228.8L308.2 228.2L309 227.5L309.8 226.8L310.6 226.2L311.4 225.6L312.2 224.9L313 224.3L313.9 223.8L314.7 223.2L315.6 222.6L315.6 222.6L317.6 223.5L318.4 223.9L320.5 226L320.5 226L322.4 227.4L323 227.9L324.3 229.1L325.4 230.2L326 230.8L327.7 232.8L327.7 232.8L329.3 235L329.7 235.7L330.7 237.3L331.5 238.9L332 239.8L333.1 242.4L333.1 242.4L333.6 246L333.7 247.9L333.8 249.8L333.7 253.6L333.7 253.6L332.8 257.3L331.7 260.9L330.2 264.5L330.2 264.5L328.3 267.8L326.1 271L323.6 274L321 277L320.4 277.5L318.1 279.6L314.9 282L311.4 284L307.8 285.7L304 287L300 287.8L296 288.1L292 288.2L288.1 287.5L287.6 287.4L284.2 286.4L280.6 285L280.6 285L278.1 283.2L277.4 282.6L275.9 281.3L274.5 279.9L273.9 279.3L272 277.1L272 277.1L271.1 275.3L270.2 273.5L270.2 273.5L269.5 271.7L268.9 269.9L268.9 269.9L268.4 268.1L268 266.4L268 266.4L267.3 264L267.1 263.3L266.7 261.8L266.5 260.3L266.4 259.5L266.2 257.3L266.2 257.3L266.8 256.2L267.3 255.1L268 254L268.4 253.4L268.7 253.1L269.3 252.1L270.1 251.1L270.8 250.3L271.1 250L271.6 249.5L272.4 248.6L273.3 247.8L274.1 247.2L274.1 247.2L275.1 246.7L276 246.2L277 245.7L277.9 245.3L278.9 244.9L279.9 244.5L279.9 244.5L280.8 244.2L281.8 243.9L282.8 243.6L283.8 243.4L284.9 243.2L285.9 242.9L285.9 242.9L286.9 242.8L287.9 242.7L288.9 242.6L289.9 242.5L291 242.4L292 242.4L292 242.4L292 242.4L292 242.4L292 242.4L292 242.4L292 242.4L292 242.4L292 242.4L292 242.4L292 242.4L292 242.4L292 242.4L292 242.4L292 242.4L292 242.4L292 242.4L292 242.4L292 242.4L292 242.4L292 242.4L292 242.4L292 242.4L292 242.4L292 242.4L292 242.4L292 242.4L292 242.4L292 242.4L292 242.4L292 242.4L292 242.4L292 242.4L292 242.4L292 242.4L292 242.4L292 242.4L292 242.4L292 242.4L292 242.4L292 242.4L292 242.4L292 242.4L292 242.4z" fill="#1e9c89"/>
<path d="M297 145L292 143.8L292 143.8L292 142.8L292 141.8L292 140.8L292 139.7L292 138.7L292 137.7L292 136.7L292 135.6L292 134.6L292 133.6L292 132.5L292 131.5L292 130.5L292 129.5L292 128.4L292 127.4L292 126.4L292 125.4L292 124.3L292 123.3L292 122.3L292 121.3L292 120.2L292 119.2L292 118.2L292 117.1L292 116.1L292 115.1L292 114.1L292 113L292 112L292 111L292 110L292 108.9L292 107.9L292 106.9L292 106.5L295.9 105.9L302 105.2L304 105L308.1 104.7L314.3 104.6L316.3 104.5L320.1 104.6L326.1 104.9L328.8 105L340.8 108.3L340.8 108.3L352.5 112.7L363.7 118.3L374.4 124.7L374.4 124.7L384.7 132L394.1 140.3L402.9 149.4L402.9 149.4L410.7 159.3L417.7 169.8L418.2 171.5L419.8 176.6L421.3 182.1L421.3 182.1L422 186L422.7 190.4L423.2 194.6L423.2 194.6L424 200.3L424.4 205.2L424.5 206.9L424.7 210L425 216.2L425.1 218.9L425 222.5L424.7 228.5L424.6 230.8L424.3 235.8L423.6 242.4L423.3 248.2L422.7 253.8L422.3 259.5L421.6 265.3L420.3 270.7L418.7 276.4L415.1 287.2L411.3 294.9L410 297.4L404 307.1L404 307.1L404 307.1L399.8 315.7L399 317.3L395.1 323.9L393 327.1L387.5 334.1L385.8 336.2L377.5 344.3L368.2 351.2L358.3 357.3L348.1 362.8L337.5 367.4L326.5 371.3L315 372.8L315 372.8L303.5 373.3L303.5 373.3L292 373L280.6 372.5L269.3 371L258.2 368.5L247.1 365.9L247.1 365.9L237.8 363.2L235.9 362.6L228.7 359.9L225.1 358.3L214.9 352.6L214.9 352.6L204.9 346.2L204.9 346.2L195.9 338.5L192.7 336.2L188.8 333.3L185.8 331.5L185.8 331.5L177.6 322.5L177.6 322.5L173.6 318.4L169.3 313.2L169.3 313.2L164.6 306.7L162.1 303L160 299.3L156 291.9L156 291.9L151.4 280.1L148.8 267.6L147.4 255.1L147.2 242.4L147.2 242.4L148.4 236L149.8 230L149.8 230L151.9 217.7L154.8 205.6L155.5 204.5L157.6 201.1L160.1 196.7L161.2 194.8L163.3 191L167.3 184.3L167.3 184.3L173.7 174.1L173.7 174.1L180.7 164.5L187.9 155.1L196.1 146.5L204.9 138.6L204.9 138.6L214.3 131.4L224.3 125.2L235 120.1L246 116L246 116L257.2 112.5L268.7 110.2L280.3 109L283.9 108.1L289.9 106.9L292 106.5L292 106.9L292 107.9L292 108.9L292 110L292 111L292 112L292 113L292 114.1L292 115.1L292 116.1L292 117.1L292 118.2L292 119.2L292 120.2L292 121.3L292 122.3L292 123.3L292 124.3L292 125.4L292 126.4L292 127.4L292 128.4L292 129.5L292 130.5L292 131.5L292 132.5L292 133.6L292 134.6L292 135.6L292 136.7L292 137.7L292 138.7L292 139.7L292 140.8L292 141.8L292 142.8L292 143.8L283.4 144.2L274.9 145.3L266.5 147.2L258.2 149.5L250.1 152.6L242.3 156.3L235.2 161.2L228.5 166.7L222.3 172.7L216.5 179L211.3 185.9L206.6 193.1L206.6 193.1L203.6 201.2L203.6 201.2L201.3 209.4L201.3 209.4L199.8 217.7L197.6 225.8L196.2 234L195.5 242.4L195.5 242.4L195.5 242.4L196.2 250.8L197.6 259L199.8 267.1L201.3 275.4L201.3 275.4L203.6 283.6L203.6 283.6L206.6 291.7L206.6 291.7L211 299.1L216.1 306.1L221.7 312.7L228 318.6L231.4 321.4L234.8 324L242.1 328.8L245 330.2L250.1 332.3L258.2 335.1L260.3 335.7L266.6 337.2L275 338.6L279.2 339.1L283.5 339.4L292 339.3L297.6 338.7L300.4 338.3L308.6 336.6L311.3 335.9L316.6 334.2L319.7 332.7L324 330.4L325 329.8L330 326.6L331 326L334.7 323.2L337.4 321L340.5 318.6L343.6 316.1L347.9 312.1L349.3 310.7L354.4 304.8L360.1 300.2L360.5 299.9L365.4 295L366.1 294.3L370.4 289.4L371.3 288.2L375.4 281.3L378.8 274L378.8 274L381.6 266.4L383 263.7L385 259.1L385.1 258.8L386.7 254.3L387.9 250.8L388.2 249.4L389.5 244.3L389.9 242.4L389.2 233.9L389 232.2L387.8 225.5L385.6 217.3L383.8 212.5L382.5 209.5L378.7 202L377.4 199.6L374.3 194.9L370.6 190L369.2 188.3L364 182L358.3 176.1L352.1 170.7L348.8 168.2L345.5 166L338.5 161.8L331.4 158L323.9 154.7L316.2 152.2L316.2 152.2L311.6 150L308.5 148.7L307 148.1L302.1 146.4L300.4 145.9zM292 57.6L308.1 58.3L324.1 60.4L339.8 63.9L355.2 68.7L370.1 74.9L384.4 82.4L398 91L410.8 100.8L422.7 111.7L433.6 123.6L443.4 136.4L452 150L459.5 164.3L465.7 179.2L470.5 194.6L474 210.3L476.1 226.3L476.8 242.4L476.1 258.5L474 274.5L470.5 290.2L465.7 305.6L459.5 320.5L452 334.8L447.9 341.7L451.2 334.3L451.2 334.3L458.1 319.8L460.4 313.5L463.2 304.7L467.5 289.4L467.5 289.4L469.3 277.2L469.6 273.7L469.2 271.9L468.7 268.6L468.2 264.9L467.6 260.8L467.1 257.7L467.2 254.1L466.9 242.4L466.5 238.6L465.1 230.2L464.4 227.3L463.3 222.1L461.2 215L460.4 212.7L458.8 207.6L456 200L455.4 198.6L450.8 184.6L445 171.1L438.2 158L436.1 153.3L431.6 144.6L431.6 144.6L428.3 138.3L424.1 131.5L424.1 131.5L419.5 124.7L415.3 119.1L413.2 116.8L404.7 108.1L402.9 106.3L393.3 97.7L393.3 97.7L382.9 89.8L380.9 88.4L367.5 80.5L367.5 80.5L353.3 74L346.6 71.2L338.6 68.5L334.4 66.7L326.6 64L323.6 63L318.8 61.6L309.8 59.5L308 59.1zM415.1 378.9L419.8 375.9L410.8 384L398 393.8L384.4 402.4L370.1 409.9L355.2 416.1L339.8 420.9L324.1 424.4L308.1 426.5L292 427.2L275.9 426.5L259.9 424.4L244.2 420.9L228.8 416.1L213.9 409.9L199.6 402.4L186 393.8L173.2 384L161.3 373.1L150.4 361.2L140.6 348.4L132 334.8L124.5 320.5L118.3 305.6L113.5 290.2L110 274.5L107.9 258.5L107.2 242.4L107.9 226.3L110 210.3L113.5 194.6L118.3 179.2L124.5 164.3L132 150L140.6 136.4L145.4 129.9L142.9 135L141.8 137.2L139 142.4L135.3 150.3L134.8 151.6L130.4 161.5L128.6 166.2L128.1 168.8L127.2 173.4L126.5 178L126.1 182L126.1 182L124 191.5L123 197.1L122.6 200.5L121.7 209L121.5 212.3L121.9 214L122.5 216.9L123.1 219.9L123.7 223.2L124.4 226.5L124.7 227.8L123.8 235.1L123.2 242.4L124.3 257.1L124.3 257.1L127.2 271.5L127.2 271.5L130.4 281.8L131.7 285.3L136.1 299.1L141.3 312.7L141.3 312.7L144.8 322L146.7 326.3L147.3 328.5L148.5 332.5L150 336.6L151.6 340.7L151.6 340.7L152.8 344.2L154.5 348.3L156.9 352.9L158 354.9L168.3 366.1L176.4 374.6L179 377L186.7 384.1L190.5 387.4L194.3 390.7L202.7 397.1L202.7 397.1L208 401.2L215.6 406.2L215.6 406.2L229.8 413.2L229.8 413.2L229.8 413.2L245.1 417.5L260.5 421L276.2 422.8L292 423.5L300 422.9L307.7 422L317.2 420.3L323.1 419L334.7 415.9L338.2 414.8L353.1 410.3L353.1 410.3L367.6 404.5L381.5 397.5L385.2 396L392.8 392.4L395.9 390.8L400.1 388.5L409.5 382.4L409.5 382.4z" fill="#2fb47c"/>
<path d="M304.7 130.2L303.4 129L303.1 128L303.2 126.9L303.2 125.9L303.3 124.9L303.4 123.9L303.5 122.8L303.8 121.8L304.6 120.9L307.4 120.2L313.5 120.4L314.5 120.2L317.5 119.8L321.3 119.6L324.9 119.6L325.7 119.6L330.4 119.9L336.2 120.8L336.2 120.8L340.6 121.4L345.6 122.4L347.7 122.9L350.9 123.8L356.6 125.6L358.9 126.5L365.3 129.6L369.4 131.9L379.1 138.6L379.1 138.6L388 146.4L389.2 147.9L395 155.9L395 155.9L398.3 161.7L400.7 166.3L401.2 167.4L403.6 173L405.1 177.1L405.4 178L406.8 182.7L407.7 186.9L408 188.3L408.2 190.5L408.6 193.9L408.6 196.6L408.2 198.6L407.8 200.3L407.8 200.3L407.4 202.1L406.8 203.7L406 204.6L405 204.9L404.1 205.3L403.1 205.6L402.1 205.9L401 205.9L399.8 205.4L398.3 204.4L397.7 203.9L396.8 203L394.8 200.9L392.3 197.6L391.2 196.2L388.6 192.3L385.7 188.3L384.3 186.8L380.6 182.9L379.1 181.4L377 179.6L373.4 176.5L371.9 175.3L369.7 173.7L365.8 171L364.3 170.1L362.8 168L358.7 163L358.7 163L354.1 158.1L352.3 156.3L348 152.7L345.1 150.5L339.2 146.6L337.2 145.5L330.6 141.7L328.9 140.9L320.2 137.3L320.2 137.3L316.7 135.4L313.7 133.7L311.4 132.2L311.4 132.2zM335.9 62.9L339.8 63.9L355.2 68.7L370.1 74.9L384.4 82.4L398 91L410.8 100.8L422.7 111.7L433.6 123.6L443.4 136.4L452 150L459.5 164.3L465.7 179.2L470.5 194.6L474 210.3L476.1 226.3L476.8 242.4L476.1 258.5L475.4 265.4L474.5 264L473.7 262.3L472.8 260.4L472 258.5L471.8 258.1L471.6 246.4L471.5 242.4L470.3 232L469.5 226.9L468.1 219.1L466.3 211.7L464.7 205.7L462 196.9L457.3 182.2L451.7 168L444.6 154.3L441.7 148.7L437.1 140.8L433.9 135.5L428.5 127.8L424.8 123L418.8 115.6L411.5 108.3L407.6 104.6L395.6 94.4L395.6 94.4L382.7 85.4L377.6 82.1L369.1 77.1L363.5 74.2L354.7 70.1L343.8 66.1L339.6 64.6zM179 387.3L183.4 391.9L173.2 384L161.3 373.1L150.4 361.2L140.6 348.4L132 334.8L124.5 320.5L118.3 305.6L113.5 290.2L110 274.5L107.9 258.5L107.2 242.4L107.9 226.3L110 210.3L113.5 194.6L118.3 179.2L123.4 166.7L122.6 171.3L122 175.2L121.7 178.9L121.6 180.4L119.3 189.4L117.9 195.7L117.2 200.9L116.1 211.4L116.1 211.4L116.3 216.1L116.8 220L117.5 223.2L118.2 226.1L118.5 227.2L117.8 230.9L116.5 240.4L116.2 242.4L117.1 257.7L117.1 257.7L119.5 272.8L123.4 287.6L128 302.1L133.8 316.2L140.5 329.9L141.4 332.7L143.1 337.4L144.9 341.9L146 344.6L147.3 347.2L150.7 353.4L153.6 358.5L153.6 358.5L164.1 370.3L169.4 376.5L174.5 382.4L174.5 382.4zM199.6 307.3L199.2 308.6L198.7 309.6L197.9 310.3L197.1 310.9L196.3 311.5L195.4 312.1L194.4 312.4L193.1 312.3L192.2 312.2L191.7 312.1L190.2 311.7L188.3 310.7L185.7 308.7L182.6 305.5L182.6 305.5L179.9 302.7L176.6 298.6L175.3 296.8L173.2 293.6L169.5 287L169.5 287L166 279.7L164.7 276.5L162.7 271.3L161 265.5L159 254L158.5 242.4L159.9 232.8L160.3 230.9L161.7 225.7L163.6 219.8L163.6 219.8L166.3 211.7L167.4 209L170 202.6L171.8 198.6L174.2 194.2L177.4 188.9L178.1 187.8L181.5 183.5L183.7 181.6L185.2 181.1L185.7 181L186.3 181.1L187.4 181.3L188.4 181.6L189.3 182.1L190.2 182.6L191.1 183.1L192 183.7L192.8 184.3L193.5 185.1L194.2 185.9L194.2 185.9L194.3 187.9L192.9 192.6L191.9 195.7L190.6 200.1L189.4 205L186.7 214.2L184.8 223.5L184.8 223.5L183.8 232.9L183.2 242.4L183.2 242.4L183.2 242.4L184 251.8L185.4 261.2L186.9 270.6L186.9 270.6L189.4 279.8L192.8 288.6L194.6 293.2L196.5 297.5L197.9 301.1L199.4 305.2L199.7 307.1z" fill="#5ec962"/>
<path d="M428.9 119.8L423.7 112.8L433.6 123.6L443.4 136.4L452 150L459.5 164.3L465.7 179.2L470.5 194.6L474 210.3L476.1 226.3L476.6 234.3L475.2 228.4L474.7 226.4L473.2 219.1L471.4 210.8L469.8 204.8L466.9 195.5L462 180.5L455.8 166L448.5 152.1L440.9 138.2L440.9 138.2L434.8 128.3L432.3 124.7zM143.5 348.9L145.5 353.3L147.5 357.6L140.6 348.4L132 334.8L124.5 320.5L118.3 305.6L113.5 290.2L110 274.5L107.9 258.5L107.2 242.4L107.9 226.3L110 210.3L112.5 198.5L112.1 205L112 210.7L112 210.7L111.3 223.2L111.4 226.6L110.5 242.4L111.6 258.2L113.2 268.6L114.3 273.7L117.7 286L118.6 288.9L123.4 303.8L129.2 318.3L129.2 318.3L136 332.4L137.3 335.8L140.4 342.5L142.6 347z" fill="#9bd93c"/>
</g>
<g fill="none" stroke="#b0b0b0" stroke-width="1.11">
<path d="M292.5 57.60V427.20"/>
<path d="M107.20 242.5H476.80"/>
<path d="M161.33 373.07L422.67 111.73"/>
<path d="M161.33 111.73L422.67 373.07"/>
<circle cx="292" cy="242.4" r="20.533"/>
<circle cx="292" cy="242.4" r="41.067"/>
<circle cx="292" cy="242.4" r="61.600"/>
<circle cx="292" cy="242.4" r="82.133"/>
<circle cx="292" cy="242.4" r="102.667"/>
<circle cx="292" cy="242.4" r="123.200"/>
<circle cx="292" cy="242.4" r="143.733"/>
<circle cx="292" cy="242.4" r="164.267"/>
</g>
<circle cx="292" cy="242.4" r="184.8" fill="none" stroke="#000" stroke-width="1.11"/>
<text x="292.00" y="41.99" font-size="14.10" text-anchor="middle" textLength="14.6" lengthAdjust="spacingAndGlyphs">0°</text>
<text x="436.42" y="101.81" font-size="14.10" text-anchor="middle" textLength="23.3" lengthAdjust="spacingAndGlyphs">45°</text>
<text x="496.24" y="246.23" font-size="14.10" text-anchor="middle" textLength="23.4" lengthAdjust="spacingAndGlyphs">90°</text>
<text x="436.42" y="390.66" font-size="14.10" text-anchor="middle" textLength="32.2" lengthAdjust="spacingAndGlyphs">135°</text>
<text x="292.00" y="451.08" font-size="14.10" text-anchor="middle" textLength="32.3" lengthAdjust="spacingAndGlyphs">180°</text>
<text x="147.58" y="390.66" font-size="14.10" text-anchor="middle" textLength="32.0" lengthAdjust="spacingAndGlyphs">225°</text>
<text x="87.76" y="246.23" font-size="14.10" text-anchor="middle" textLength="32.0" lengthAdjust="spacingAndGlyphs">270°</text>
<text x="147.58" y="101.81" font-size="14.10" text-anchor="middle" textLength="32.2" lengthAdjust="spacingAndGlyphs">315°</text>
<text x="300.76" y="220.14" font-size="14.10" text-anchor="start" textLength="15.9" lengthAdjust="spacingAndGlyphs">10</text>
<text x="308.62" y="201.17" font-size="14.10" text-anchor="start" textLength="15.9" lengthAdjust="spacingAndGlyphs">20</text>
<text x="316.47" y="182.20" font-size="14.10" text-anchor="start" textLength="15.9" lengthAdjust="spacingAndGlyphs">30</text>
<text x="324.33" y="163.23" font-size="14.10" text-anchor="start" textLength="15.9" lengthAdjust="spacingAndGlyphs">40</text>
<text x="332.19" y="144.26" font-size="14.10" text-anchor="start" textLength="15.9" lengthAdjust="spacingAndGlyphs">50</text>
<text x="340.05" y="125.29" font-size="14.10" text-anchor="start" textLength="15.9" lengthAdjust="spacingAndGlyphs">60</text>
<text x="347.90" y="106.32" font-size="14.10" text-anchor="start" textLength="15.9" lengthAdjust="spacingAndGlyphs">70</text>
<text x="355.76" y="87.35" font-size="14.10" text-anchor="start" textLength="15.9" lengthAdjust="spacingAndGlyphs">80</text>
<text x="363.62" y="68.38" font-size="14.10" text-anchor="start" textLength="15.9" lengthAdjust="spacingAndGlyphs">90</text>
<text x="63.10" y="23.10" font-size="17.80" text-anchor="start" textLength="69.6" lengthAdjust="spacingAndGlyphs">Antenna</text>
<text x="139.10" y="23.10" font-size="17.80" text-anchor="start" textLength="49.6" lengthAdjust="spacingAndGlyphs">Phase</text>
<text x="194.10" y="23.10" font-size="17.80" text-anchor="start" textLength="58.6" lengthAdjust="spacingAndGlyphs">Biases:</text>
<text x="259.10" y="23.10" font-size="17.80" text-anchor="start" textLength="116.6" lengthAdjust="spacingAndGlyphs">CNTMARSPRO</text>
<text x="408.10" y="23.10" font-size="17.80" text-anchor="start" textLength="47.6" lengthAdjust="spacingAndGlyphs">NONE</text>
<text x="461.10" y="23.10" font-size="17.80" text-anchor="start" textLength="58.6" lengthAdjust="spacingAndGlyphs">GPS-L2</text>
<rect x="502.50" y="58.50" width="18.00" height="368.70" fill="#471365"/>
<rect x="502.50" y="58.50" width="18.00" height="331.74" fill="#463480"/>
<rect x="502.50" y="58.50" width="18.00" height="294.78" fill="#3b528b"/>
<rect x="502.50" y="58.50" width="18.00" height="257.82" fill="#2f6c8e"/>
<rect x="502.50" y="58.50" width="18.00" height="220.86" fill="#25848e"/>
<rect x="502.50" y="58.50" width="18.00" height="183.90" fill="#1e9c89"/>
<rect x="502.50" y="58.50" width="18.00" height="146.94" fill="#2fb47c"/>
<rect x="502.50" y="58.50" width="18.00" height="109.98" fill="#5ec962"/>
<rect x="502.50" y="58.50" width="18.00" height="73.02" fill="#9bd93c"/>
<rect x="502.50" y="58.50" width="18.00" height="36.06" fill="#dfe318"/>
<rect x="502.50" y="58.50" width="18.00" height="369.00" fill="none" stroke="#000" stroke-width="1.11"/>
<path d="M520.50 390.5h4.5" stroke="#000" stroke-width="1.11"/>
<text x="530.50" y="395.52" font-size="14.10" text-anchor="start" textLength="19.0" lengthAdjust="spacingAndGlyphs">−4</text>
<path d="M520.50 316.5h4.5" stroke="#000" stroke-width="1.11"/>
<text x="530.50" y="321.60" font-size="14.10" text-anchor="start" textLength="19.0" lengthAdjust="spacingAndGlyphs">−2</text>
<path d="M520.50 242.5h4.5" stroke="#000" stroke-width="1.11"/>
<text x="530.50" y="247.68" font-size="14.10" text-anchor="start" textLength="7.4" lengthAdjust="spacingAndGlyphs">0</text>
<path d="M520.50 168.5h4.5" stroke="#000" stroke-width="1.11"/>
<text x="530.50" y="173.76" font-size="14.10" text-anchor="start" textLength="7.4" lengthAdjust="spacingAndGlyphs">2</text>
<path d="M520.50 95.5h4.5" stroke="#000" stroke-width="1.11"/>
<text x="530.50" y="99.84" font-size="14.10" text-anchor="start" textLength="7.4" lengthAdjust="spacingAndGlyphs">4</text>
<text x="566.39" y="242.40" font-size="14.10" text-anchor="middle" textLength="70.3" lengthAdjust="spacingAndGlyphs" transform="rotate(-90 566.39 242.40)">Bias (mm)</text>
</svg></body></html>
